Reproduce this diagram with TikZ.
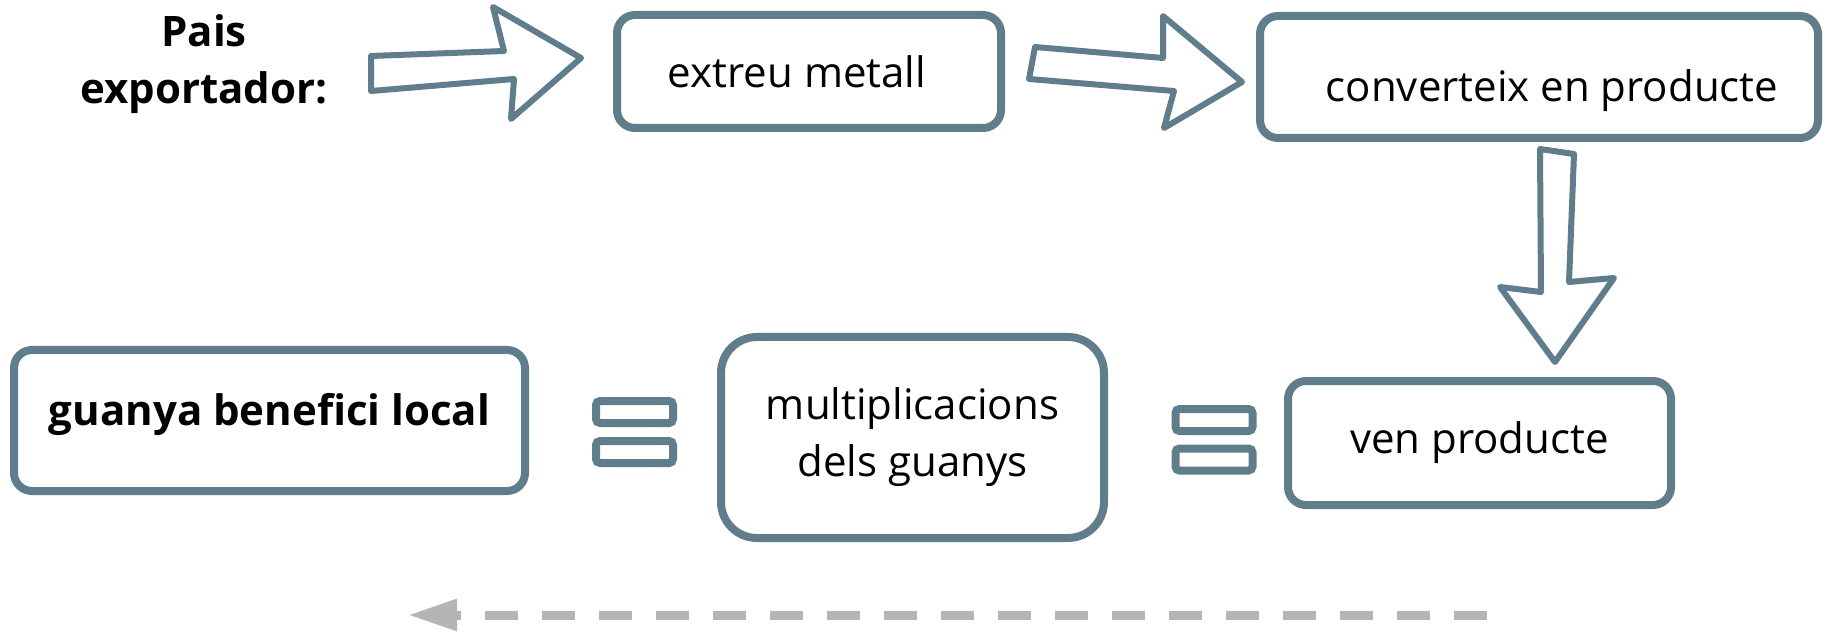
\documentclass[tikz,border=0pt]{standalone}
\usepackage{fontspec}
\setmainfont{Open Sans}
\usetikzlibrary{arrows.meta}
\definecolor{slate}{HTML}{607D8B}
\definecolor{dashgray}{HTML}{B5B5B5}

\begin{document}
\begin{tikzpicture}[x=1pt, y=-1pt,
        box/.style={draw=slate, line width=8pt, rounded corners=18pt, fill=white, font=\fontsize{42}{57}\selectfont, align=center, inner sep=0pt},
        label/.style={font=\fontsize{42}{57}\selectfont\bfseries, align=center, inner sep=0pt},
        eqbar/.style={draw=slate, line width=8pt, rounded corners=4pt, minimum width=77pt, minimum height=22pt, inner sep=0pt},
        blockarrow/.style={draw=slate, line width=6pt, line join=round, fill=white},
        back/.style={dashgray, line width=9pt, dash pattern=on 33pt off 24pt, -{Triangle[length=49pt, width=30pt]}}
    ]
    \useasboundingbox (0,0) rectangle (1829,636);
    % Nodes
    \node[label] (pais) at (204,64) {Pais\\exportador:};
    \node[box, minimum width=384pt, minimum height=113pt] (extreu) at (809,71.5) {extreu metall\hspace*{24pt}};
    \node[box, minimum width=558pt, minimum height=122pt, text height=57pt, text depth=7pt] (converteix) at (1539,77) {\hspace*{26pt}converteix en producte};
    \node[box, minimum width=383pt, minimum height=124pt] (ven) at (1479.5,443) {ven producte};
    \node[box, rounded corners=36pt, minimum width=383pt, minimum height=201pt] (multi) at (912.5,437.5) {multiplicacions\\dels guanys};
    \node[box, minimum width=511pt, minimum height=141pt, text height=32pt, text depth=22pt, font=\fontsize{42}{57}\selectfont\bfseries] (guanya) at (269.5,420.5) {guanya benefici local};
    % Equal signs
    \node[eqbar] (eqA1) at (634.5,412) {};
    \node[eqbar] (eqA2) at (634.5,452) {};
    \node[eqbar] (eqB1) at (1214,420) {};
    \node[eqbar] (eqB2) at (1214,459.5) {};
    % Block arrows
    \draw[blockarrow] (371,56) -- (504,51) -- (493,7) -- (581,58) -- (511,119) -- (514,79) -- (371,91) -- cycle;
    \draw[blockarrow] (1035,47) -- (1163,58) -- (1163,16) -- (1242,82) -- (1164,128) -- (1174,91) -- (1029,79) -- cycle;
    \draw[blockarrow] (1540,149) -- (1574,154) -- (1569,282) -- (1614,278) -- (1555,362) -- (1500,287) -- (1541,292) -- cycle;
    % Back arrow
    \coordinate (backR) at (1487,615);
    \coordinate (backL) at (408,615);
    \draw[back] (backR) -- (backL);
\end{tikzpicture}
\end{document}
